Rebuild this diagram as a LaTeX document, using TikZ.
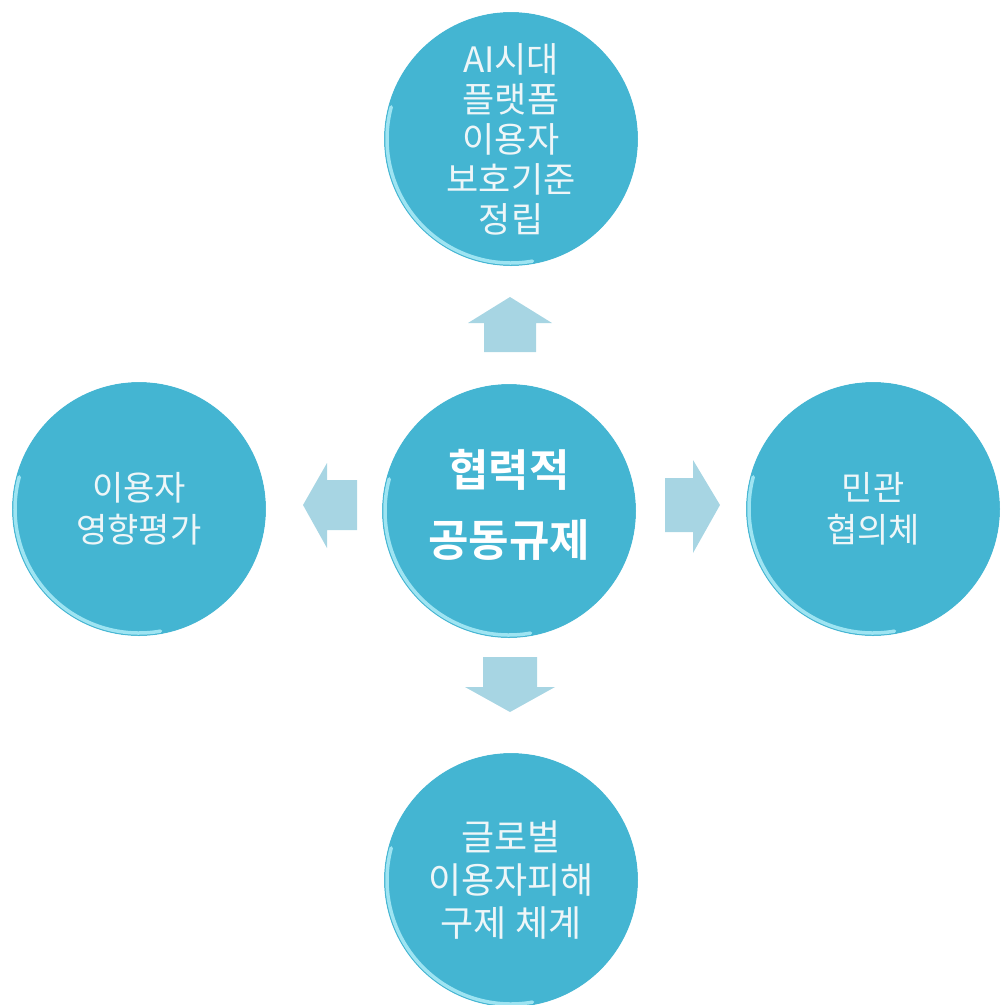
\documentclass[tikz,border=0pt]{standalone}
\usepackage{fontspec}
\newfontfamily\kr{Noto Sans CJK KR}
\newfontfamily\krb{Noto Sans CJK KR Bold}
\definecolor{ball}{HTML}{44B5D2}
\definecolor{rim}{HTML}{9EE4F2}
\definecolor{arr}{HTML}{A7D5E3}
\definecolor{txt}{HTML}{EEF6F8}
\begin{document}
\begin{tikzpicture}[x=1pt,y=-1pt,
  ball/.style={circle,fill=ball,minimum size=254pt,inner sep=0pt,text=txt,align=center,
     font=\kr\fontsize{34}{42}\selectfont},
  blockarrow/.style={fill=arr,draw=none}]
\useasboundingbox (0,0) rectangle (1001,1005);
\node[ball,font=\kr\fontsize{35}{40}\selectfont] (top) at (511,139) {AI시대\\플랫폼\\이용자\\보호기준\\정립};
\node[ball] (mid) at (509,511) {};
\node[align=center,font=\krb\fontsize{44}{70}\selectfont,text=white] (midtext) at (509,505) {협력적\\공동규제};
\node[ball] (left) at (139,509) {이용자\\영향평가};
\node[ball] (right) at (873,509) {민관\\협의체};
\node[ball,font=\kr\fontsize{36}{43}\selectfont] (bot) at (511,880) {글로벌\\이용자피해\\구제 체계};
\foreach \n in {top,mid,left,right,bot}{
  \draw[rim,line width=3.5pt,line cap=round] (\n) ++(165:124pt) arc[start angle=165,end angle=280,radius=124pt];
  \draw[white,line width=1pt,opacity=0.7] (\n) circle[radius=127.5pt];
}
% block arrows
\coordinate (au) at (510,297);
\fill[blockarrow] (au) -- ++(42,26) -- ++(-16,0) -- ++(0,29) -- ++(-52,0) -- ++(0,-29) -- ++(-16,0) -- cycle;
\coordinate (ad) at (510,712);
\fill[blockarrow] (ad) -- ++(45,-25) -- ++(-18,0) -- ++(0,-30) -- ++(-54,0) -- ++(0,30) -- ++(-18,0) -- cycle;
\coordinate (al) at (303,505);
\fill[blockarrow] (al) -- ++(24,-42) -- ++(0,17) -- ++(30,0) -- ++(0,50) -- ++(-30,0) -- ++(0,18) -- cycle;
\coordinate (ar) at (720,505);
\fill[blockarrow] (ar) -- ++(-27,-45) -- ++(0,18) -- ++(-28,0) -- ++(0,54) -- ++(28,0) -- ++(0,21) -- cycle;
\end{tikzpicture}
\end{document}
